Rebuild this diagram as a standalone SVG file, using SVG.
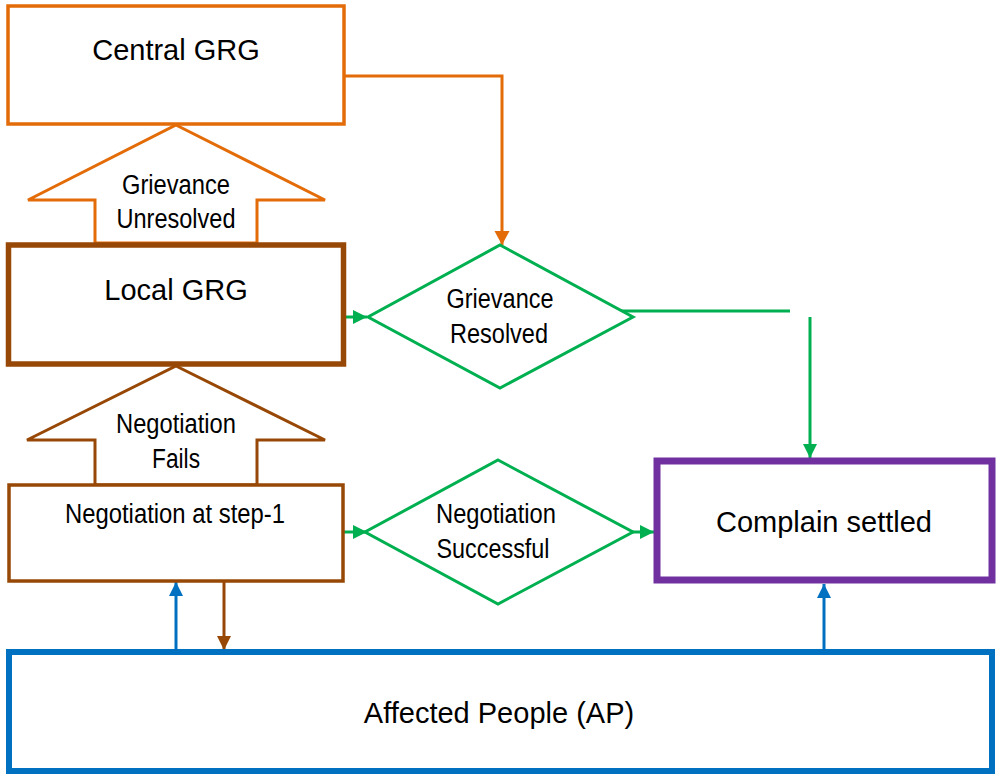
<svg xmlns="http://www.w3.org/2000/svg" width="997" height="774" viewBox="0 0 997 774">
<style>
text{font-family:"Liberation Sans",Arial,sans-serif;fill:#000;text-anchor:middle}
.big{font-size:29px}
.nar{font-size:27px}
.box{fill:#fff}
.conn{fill:none;stroke-width:3}
</style>
<defs>
<marker id="aO" markerUnits="userSpaceOnUse" markerWidth="18" markerHeight="18" refX="14" refY="7.5" orient="auto"><path d="M0,0 L14,7.5 L0,15 Z" fill="#E36C09"/></marker>
<marker id="aG" markerUnits="userSpaceOnUse" markerWidth="18" markerHeight="18" refX="14" refY="7" orient="auto"><path d="M0,0 L14,7 L0,14 Z" fill="#00B050"/></marker>
<marker id="aB" markerUnits="userSpaceOnUse" markerWidth="18" markerHeight="18" refX="14" refY="7" orient="auto"><path d="M0,0 L14,7 L0,14 Z" fill="#0070C0"/></marker>
<marker id="aR" markerUnits="userSpaceOnUse" markerWidth="18" markerHeight="18" refX="14" refY="7" orient="auto"><path d="M0,0 L14,7 L0,14 Z" fill="#984806"/></marker>
</defs>
<rect width="997" height="774" fill="#fff"/>
<g id="connectors">
<path class="conn" d="M344,76 H502 V245" stroke="#E36C09" marker-end="url(#aO)"/>
<path class="conn" d="M344,317 H367" stroke="#00B050" marker-end="url(#aG)"/>
<path class="conn" d="M612,311 H790" stroke="#00B050"/>
<path class="conn" d="M810,317 V458" stroke="#00B050" marker-end="url(#aG)"/>
<path class="conn" d="M344,532 H367" stroke="#00B050" marker-end="url(#aG)"/>
<path class="conn" d="M622,532 H654" stroke="#00B050" marker-end="url(#aG)"/>
<path class="conn" d="M176,650 V582" stroke="#0070C0" stroke-width="3.5" marker-end="url(#aB)"/>
<path class="conn" d="M224,582 V650" stroke="#984806" marker-end="url(#aR)"/>
<path class="conn" d="M824,650 V584" stroke="#0070C0" stroke-width="3.5" marker-end="url(#aB)"/>
</g>
<g id="central-grg">
<rect class="box" x="8" y="6" width="336" height="118" stroke="#E36C09" stroke-width="3.5"/>
<text class="big" x="176" y="60">Central GRG</text>
</g>
<g id="grievance-unresolved">
<polygon points="176,125 325,200 257,200 257,243 95,243 95,200 28,200" fill="#fff" stroke="#E36C09" stroke-width="3"/>
<text class="nar" x="176" y="194" textLength="108" lengthAdjust="spacingAndGlyphs">Grievance</text>
<text class="nar" x="176" y="228" textLength="119" lengthAdjust="spacingAndGlyphs">Unresolved</text>
</g>
<g id="local-grg">
<rect class="box" x="8.5" y="245" width="335" height="119" stroke="#984806" stroke-width="5.5"/>
<text class="big" x="176" y="300">Local GRG</text>
</g>
<g id="negotiation-fails">
<polygon points="176,366 325,440 257,440 257,485 95,485 95,440 27,440" fill="#fff" stroke="#984806" stroke-width="3"/>
<text class="nar" x="176" y="433" textLength="120" lengthAdjust="spacingAndGlyphs">Negotiation</text>
<text class="nar" x="176" y="468" textLength="48" lengthAdjust="spacingAndGlyphs">Fails</text>
</g>
<g id="negotiation-step1">
<rect class="box" x="9" y="485" width="334" height="96" stroke="#984806" stroke-width="3.5"/>
<text class="nar" x="175" y="523" textLength="220" lengthAdjust="spacingAndGlyphs">Negotiation at step-1</text>
</g>
<g id="grievance-resolved">
<polygon points="500,245 633,317 500,388 368,317" fill="#fff" stroke="#00B050" stroke-width="3"/>
<text class="nar" x="500" y="308" textLength="107" lengthAdjust="spacingAndGlyphs">Grievance</text>
<text class="nar" x="499" y="343" textLength="98" lengthAdjust="spacingAndGlyphs">Resolved</text>
</g>
<g id="negotiation-successful">
<polygon points="498,460 633,532 498,604 365,532" fill="#fff" stroke="#00B050" stroke-width="3"/>
<text class="nar" x="496" y="523" textLength="120" lengthAdjust="spacingAndGlyphs">Negotiation</text>
<text class="nar" x="493" y="558" textLength="113" lengthAdjust="spacingAndGlyphs">Successful</text>
</g>
<g id="complain-settled">
<rect class="box" x="657" y="461" width="335" height="119" stroke="#7030A0" stroke-width="7"/>
<text class="big" x="824" y="532">Complain settled</text>
</g>
<g id="affected-people">
<rect class="box" x="9" y="652" width="983" height="119" stroke="#0070C0" stroke-width="6"/>
<text class="big" x="499" y="723">Affected People (AP)</text>
</g>
</svg>
